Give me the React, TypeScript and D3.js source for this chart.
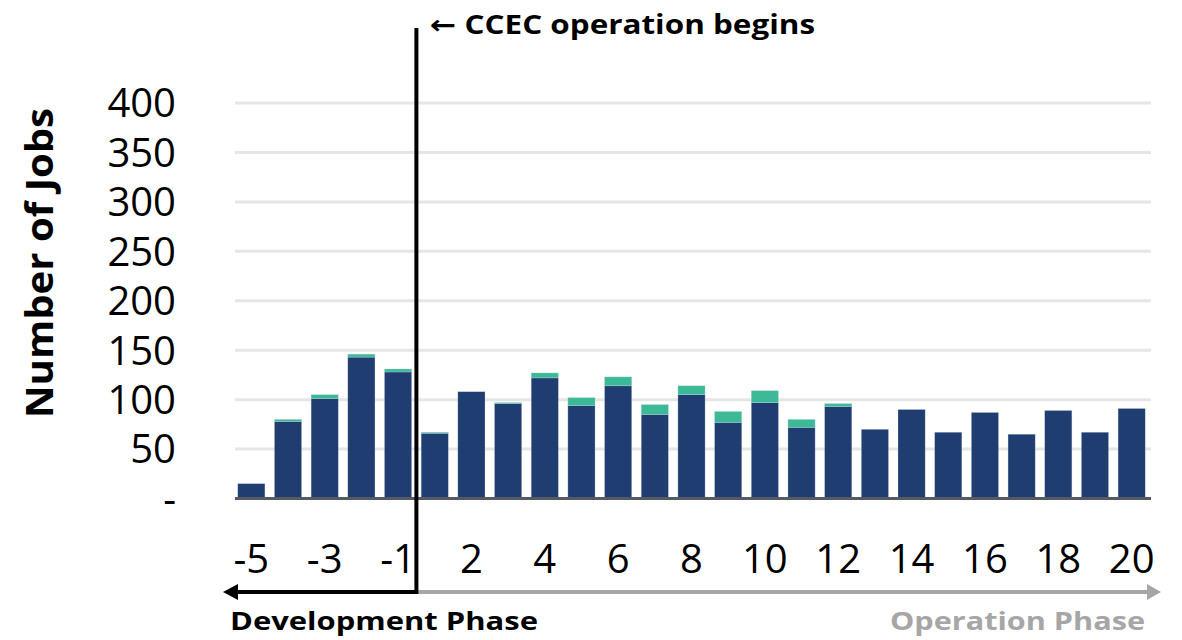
import React from 'react';
import * as d3 from 'd3';

// years relative to start of operation
const years = ['-5', '-4', '-3', '-2', '-1', '1', '2', '3', '4', '5', '6', '7', '8', '9', '10',
  '11', '12', '13', '14', '15', '16', '17', '18', '19', '20'];
const baseJobs = [15, 78, 101, 143, 128, 66, 108, 96, 122, 94, 114, 85, 105, 77, 97,
  72, 93, 70, 90, 67, 87, 65, 89, 67, 91];
const extraJobs = [0, 2, 4, 3, 3, 1, 0, 1, 5, 8, 9, 10, 9, 11, 12,
  8, 3, 0, 0, 0, 0, 0, 0, 0, 0];
const yTicks = [0, 50, 100, 150, 200, 250, 300, 350, 400];
const xLabelYears = ['-5', '-3', '-1', '2', '4', '6', '8', '10', '12', '14', '16', '18', '20'];

const W = 1182;
const H = 640;
const FONT = '"Open Sans", "DejaVu Sans", sans-serif';

const App = () => {
  const x = d3.scaleBand<string>()
    .domain(years)
    .range([233, 1150])
    .paddingInner(0.26)
    .paddingOuter(0.13);

  const y = d3.scaleLinear().domain([0, 400]).range([498.5, 103]);

  const rows = years.map((yr, i) => ({ year: yr, base: baseJobs[i], extra: extraJobs[i] }));
  const stack = d3.stack<any>().keys(['base', 'extra']);
  const layers = stack(rows);
  const colors = ['#1f3d70', '#3cba97'];

  const bw = x.bandwidth();
  const step = x.step();
  // divider between development and operation
  const divX = (x('-1') as number) + bw + (step - bw) / 2;
  const arrowY = 592;

  return (
    <svg width={W} height={H} style={{ position: 'absolute', left: 0, top: 0, background: '#fff' }}>
      {/* gridlines */}
      {yTicks.filter(t => t > 0).map(t => (
        <line key={t} x1={235} x2={1151} y1={y(t)} y2={y(t)} stroke="#e6e6e6" strokeWidth={3} />
      ))}
      {/* y tick labels */}
      {yTicks.map(t => (
        <text key={'yl' + t} x={176} y={y(t)} dy="0.36em" textAnchor="end"
          fontFamily={FONT} fontSize={40} fill="#000">
          {t === 0 ? '-' : t}
        </text>
      ))}
      {/* bars */}
      {layers.map((layer, li) => (
        <g key={li} fill={colors[li]}>
          {layer.map((d, i) => (
            d[1] - d[0] > 0 ? (
              <rect key={i} x={x(years[i])} width={bw} y={y(d[1])} height={y(d[0]) - y(d[1])}
                stroke="#c9d3e3" strokeOpacity={0.5} strokeWidth={0.6} />
            ) : null
          ))}
        </g>
      ))}
      {/* baseline */}
      <line x1={235} x2={1151} y1={498.5} y2={498.5} stroke="#555b65" strokeWidth={3} />
      {/* x tick labels */}
      {xLabelYears.map(yr => (
        <text key={'xl' + yr} x={(x(yr) as number) + bw / 2} y={573} textAnchor="middle"
          fontFamily={FONT} fontSize={40} fill="#000">
          {yr}
        </text>
      ))}
      {/* y axis title */}
      <text transform="translate(53,263) rotate(-90)" textAnchor="middle" fontFamily={FONT}
        fontWeight="bold" fontSize={38} fill="#000" textLength={310} lengthAdjust="spacingAndGlyphs">
        Number of Jobs
      </text>
      {/* phase arrows */}
      <line x1={divX} x2={1148} y1={arrowY} y2={arrowY} stroke="#a6a6a6" strokeWidth={4} />
      <path d={`M1161,${arrowY} L1147,${arrowY - 8} L1147,${arrowY + 8} Z`} fill="#a6a6a6" />
      <line x1={236} x2={divX} y1={arrowY} y2={arrowY} stroke="#000" strokeWidth={4} />
      <path d={`M223,${arrowY} L238,${arrowY - 8} L238,${arrowY + 8} Z`} fill="#000" />
      {/* divider line */}
      <line x1={divX} x2={divX} y1={28} y2={arrowY + 2} stroke="#000" strokeWidth={4} />
      <text x={430} y={34} fontFamily={FONT} fontWeight="bold" fontSize={26} fill="#000"
        textLength={385} lengthAdjust="spacingAndGlyphs">
        ← CCEC operation begins
      </text>
      <text x={230} y={630} fontFamily={FONT} fontWeight="bold" fontSize={25} fill="#000"
        textLength={308} lengthAdjust="spacingAndGlyphs">
        Development Phase
      </text>
      <text x={1145} y={630} textAnchor="end" fontFamily={FONT} fontWeight="bold" fontSize={25}
        fill="#a6a6a6" textLength={255} lengthAdjust="spacingAndGlyphs">
        Operation Phase
      </text>
    </svg>
  );
};

export default App;
